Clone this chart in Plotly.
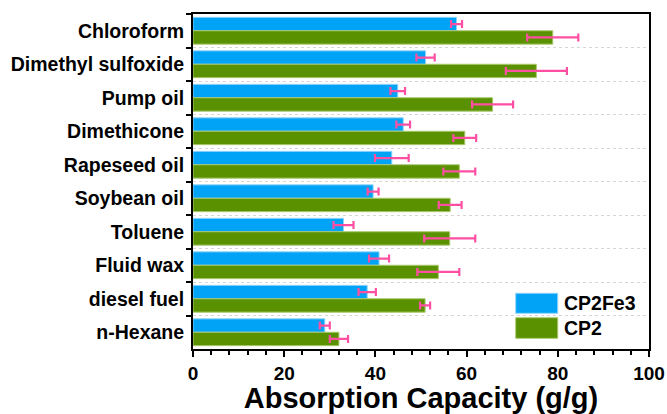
import plotly.graph_objects as go

# Solvents, listed top to bottom
solvents = ["Chloroform", "Dimethyl sulfoxide", "Pump oil", "Dimethicone",
            "Rapeseed oil", "Soybean oil", "Toluene", "Fluid wax",
            "diesel fuel", "n-Hexane"]

# Absorption capacity (g/g) and standard deviation
cp2fe3 = [57.8, 51.0, 44.9, 46.1, 43.6, 39.5, 33.0, 40.8, 38.2, 28.9]
cp2fe3_err = [1.2, 2.0, 1.6, 1.5, 3.7, 1.2, 2.2, 2.2, 1.9, 1.1]
cp2 = [78.9, 75.3, 65.7, 59.6, 58.4, 56.4, 56.3, 53.8, 50.9, 32.0]
cp2_err = [5.6, 6.7, 4.5, 2.5, 3.5, 2.5, 5.6, 4.6, 1.1, 2.0]

series_names = ["CP2Fe3", "CP2"]
colors = ["#00A3F5", "#5A9100"]
edge_colors = ["#8FD3FA", "#A9C96E"]
err_color = "#FF4FA3"

fig = go.Figure()
for name, vals, errs, col, edge in zip(series_names, [cp2fe3, cp2],
                                        [cp2fe3_err, cp2_err], colors, edge_colors):
    fig.add_trace(go.Bar(
        y=solvents, x=vals, name=name, orientation="h",
        marker=dict(color=col, line=dict(color=edge, width=1)),
        error_x=dict(type="data", array=errs, visible=True,
                     color=err_color, thickness=2.2, width=4),
        showlegend=False,
    ))

font_family = "Liberation Sans, Arial, sans-serif"

fig.update_layout(
    width=667, height=414,
    margin=dict(l=193, r=18, t=14, b=65, autoexpand=False),
    paper_bgcolor="white", plot_bgcolor="white",
    barmode="group", bargap=0.2, bargroupgap=0.0,
    font=dict(family=font_family, color="black"),
    xaxis=dict(
        range=[0, 100], dtick=20, tick0=0, automargin=False,
        showgrid=False, zeroline=False,
        showline=True, linecolor="black", linewidth=2, mirror=True,
        ticks="outside", ticklen=6, tickwidth=2, tickcolor="black",
        minor=dict(dtick=4, ticks="outside", ticklen=4, tickwidth=1.5,
                   tickcolor="black", showgrid=False),
        tickfont=dict(size=19, family=font_family, weight="bold"),
        title=dict(text="<b>Absorption Capacity (g/g)</b>",
                   font=dict(size=29, family=font_family), standoff=2),
    ),
    yaxis=dict(
        autorange="reversed", tickson="boundaries", automargin=False,
        showgrid=True, gridcolor="#D6D6D6", griddash="dot", gridwidth=1,
        showline=True, linecolor="black", linewidth=2, mirror=True,
        ticks="outside", ticklen=5, tickwidth=2, tickcolor="black",
        tickfont=dict(size=19.5, family=font_family, weight="bold"),
        ticklabelstandoff=3,
    ),
)

# Legend swatches and labels
legend_rows = [(0.1066, 0.1663), (0.0319, 0.0934)]
for name, col, edge, (y0, y1) in zip(series_names, colors, edge_colors, legend_rows):
    fig.add_shape(type="rect", xref="paper", yref="paper",
                  x0=0.7077, x1=0.7998, y0=y0, y1=y1,
                  fillcolor=col, line=dict(color=edge, width=1))
    fig.add_annotation(xref="paper", yref="paper", x=0.81, y=(y0 + y1) / 2,
                       text=f"<b>{name}</b>", showarrow=False,
                       xanchor="left", yanchor="middle",
                       font=dict(size=19.5, family=font_family, color="black"))

fig.write_html("out.html")
